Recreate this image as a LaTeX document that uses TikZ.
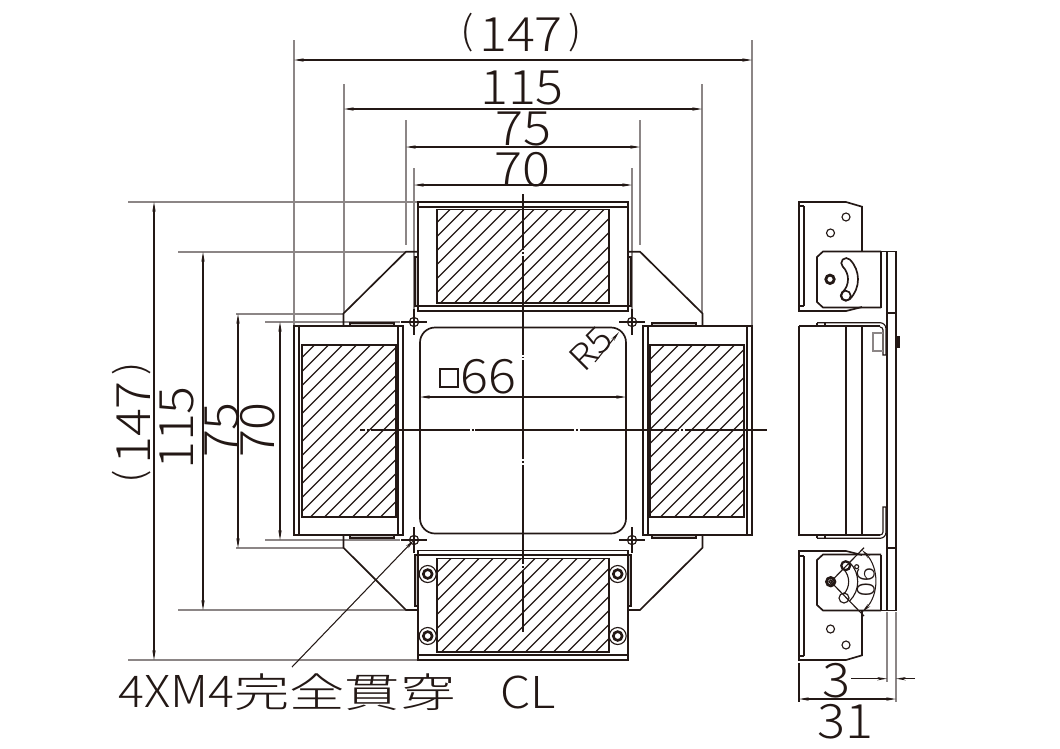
\documentclass[tikz,border=0pt]{standalone}
\usepackage{fontspec}
\setmainfont{Noto Sans CJK JP Light}[FakeStretch=1.1]
\newfontfamily\cjkwide{Noto Sans CJK JP Light}[FakeStretch=1.37]
\usetikzlibrary{arrows.meta}
\definecolor{ink}{HTML}{231815}
\definecolor{extgray}{HTML}{8C8686}
\definecolor{platefill}{HTML}{C9C6C5}
\tikzset{
	obj/.style={draw=ink,line width=0.95pt,line join=miter},
	thinobj/.style={draw=ink,line width=0.65pt},
	extline/.style={draw=extgray,line width=0.65pt},
	dimline/.style={draw=ink,line width=0.6pt,{Stealth[length=5.6pt,width=1.9pt]}-{Stealth[length=5.6pt,width=1.9pt]}},
	leadline/.style={draw=ink,line width=0.6pt,-{Stealth[length=5.6pt,width=1.9pt]}},
	centerline/.style={draw=ink,line width=0.75pt,dash pattern=on 56.3pt off 1.1pt on 1.1pt off 1.1pt},
	hatchline/.style={draw=ink,line width=0.7pt},
	dimtext/.style={text=ink,inner sep=0pt,font=\fontsize{27}{27}\selectfont},
}
\newcommand{\parlabel}[1]{{\fontsize{22}{22}\selectfont\raisebox{4pt}{(}}\hspace{3pt}#1\hspace{3pt}{\fontsize{22}{22}\selectfont\raisebox{4pt}{)}}}
% hatched window: x1 y1 x2 y2
\newcommand{\hatchbox}[4]{
	\begin{scope}
		\clip (#1,#2) rectangle (#3,#4);
		\foreach \k in {575.5,589.5,...,1420}
			\draw[hatchline] (\k-#2,#2)--(\k-#4,#4);
	\end{scope}
	\draw[obj] (#1,#2) rectangle (#3,#4);
}
\newcommand{\screwmark}[2]{
	\draw[thinobj,fill=white] (#1,#2) circle (8.5);
	\draw[ink,line width=1.5pt] (#1,#2) circle (4.4);
}
\newcommand{\holemark}[2]{
	\draw[thinobj] (#1,#2) circle (4.6);
	\draw[thinobj] (#1-13,#2)--(#1+13,#2);
	\draw[thinobj] (#1,#2-13)--(#1,#2+13);
}
\begin{document}
\begin{tikzpicture}[x=0.02cm,y=-0.02cm]
	\useasboundingbox (0,0) rectangle (1060,748);
	% extension lines, top
	\draw[extline] (294,40)--(294,326);
	\draw[extline] (752,40)--(752,326);
	\draw[extline] (344,84)--(344,313);
	\draw[extline] (702,84)--(702,313);
	\draw[extline] (406,120)--(406,245);
	\draw[extline] (640,120)--(640,245);
	\draw[extline] (414,168)--(414,318);
	\draw[extline] (632,168)--(632,318);
	% extension lines, left
	\draw[extline] (128,202)--(418,202);
	\draw[extline] (128,660)--(418,660);
	\draw[extline] (178,252)--(406,252);
	\draw[extline] (178,610)--(406,610);
	\draw[extline] (236,314)--(343,314);
	\draw[extline] (236,548)--(343,548);
	\draw[extline] (265,322)--(400,322);
	\draw[extline] (265,540)--(400,540);
	% dimensions, top
	\draw[dimline] (294,60)--(752,60);
	\draw[dimline] (344,109)--(702,109);
	\draw[dimline] (406,147)--(640,147);
	\draw[dimline] (414,185)--(632,185);
	\node[dimtext] (t147) at (521,33) {\parlabel{147}};
	\node[dimtext] (t115) at (522,88) {115};
	\node[dimtext] (t75) at (523,129) {75};
	\node[dimtext] (t70) at (522,170) {70};
	% dimensions, left
	\draw[dimline] (154,202)--(154,660);
	\draw[dimline] (203,252)--(203,610);
	\draw[dimline] (238,314)--(238,548);
	\draw[dimline] (280,322)--(280,540);
	\node[dimtext,rotate=90] (l147) at (132,423) {\parlabel{147}};
	\node[dimtext,rotate=90] (l115) at (177,428) {115};
	\node[dimtext,rotate=90] (l75) at (222,430) {75};
	\node[dimtext,rotate=90] (l70) at (258,430) {70};
	% panels
	\draw[obj] (418,202) rectangle (628,311);
	\draw[obj] (418,207)--(628,207);
	\draw[obj] (418,306)--(628,306);
	\hatchbox{437}{209.5}{609}{303}
	\draw[obj] (418,550.5) rectangle (628,660);
	\draw[obj] (418,555)--(628,555);
	\draw[obj] (418,655)--(628,655);
	\hatchbox{437}{558.5}{609}{652}
	\draw[obj] (294,326) rectangle (403,535);
	\draw[obj] (299,326)--(299,535);
	\draw[obj] (398,326)--(398,535);
	\hatchbox{302}{345}{396}{517}
	\draw[obj] (643,326) rectangle (752,535);
	\draw[obj] (648,326)--(648,535);
	\draw[obj] (747,326)--(747,535);
	\hatchbox{650}{345}{744}{517}
	% screws
	\screwmark{427.7}{574}
	\screwmark{427.7}{636}
	\screwmark{617.7}{574}
	\screwmark{617.7}{636}
	% corner brackets
	\draw[obj] (343.5,326)--(343.5,313.5)--(406,251.7)--(418,251.7);
	\draw[obj] (702.5,326)--(702.5,313.5)--(640,251.7)--(628,251.7);
	\draw[obj] (343.5,535)--(343.5,547.7)--(406,610)--(418,610);
	\draw[obj] (702.5,535)--(702.5,547.7)--(640,610)--(628,610);
	\draw[thinobj,fill=platefill] (415,257)rectangle(418,306);
	\draw[thinobj,fill=platefill] (628,257)rectangle(631,306);
	\draw[thinobj,fill=platefill] (415,555)rectangle(418,606);
	\draw[thinobj,fill=platefill] (628,555)rectangle(631,606);
	\draw[thinobj,fill=platefill] (350,323)rectangle(394,326);
	\draw[thinobj,fill=platefill] (652,323)rectangle(696,326);
	\draw[thinobj,fill=platefill] (350,535)rectangle(394,538);
	\draw[thinobj,fill=platefill] (652,535)rectangle(696,538);
	% opening
	\draw[obj,rounded corners=15*0.02cm] (420,327.5) rectangle (626,533.5);
	\holemark{414}{322}
	\holemark{632}{322}
	\holemark{414}{540}
	\holemark{632}{540}
	% centre lines
	\draw[centerline,dash phase=24.5pt] (523,194)--(523,632);
	\draw[centerline,dash phase=53.5pt] (360,430)--(767,430);
	% opening dimensions
	\draw[dimline] (420,397)--(626,397);
	\draw[thinobj] (440,369) rectangle (458,387);
	\node[dimtext] (t66) at (488,377) {66};
	\draw[leadline] (595,362)--(619,332);
	\node[dimtext,rotate=45,font=\fontsize{20}{20}\selectfont] (r5) at (591,349) {R5};
	% note
	\draw[leadline] (292,667)--(414,540);
	\node[dimtext,anchor=west,font=\fontsize{25}{25}\selectfont] (note) at (118,692) {4XM4{\cjkwide\fontsize{23}{23}\selectfont 完全貫穿}};
	\node[dimtext,anchor=west,font=\fontsize{25}{25}\selectfont] (cl) at (500,692) {CL};
	% side view, upper bracket
	\draw[obj] (862,251.5)--(862,206.7)--(846,202)--(799,202)--(799,311)--(846,311)--(862,307);
	\draw[obj] (804,206)--(804,306);
	\draw[obj] (799,206)--(804,206);
	\draw[obj] (799,306)--(804,306);
	\draw[thinobj] (846,217) circle (4);
	\draw[thinobj] (830.5,233) circle (4);
	\draw[obj] (881,251.5)--(823,251.5)--(817,257)--(817,302)--(823,307.5)--(881,307.5);
	\draw[obj] (881,251.5)--(896,251.5)--(896,610.5)--(881,610.5);
	\draw[obj] (881,251.5)--(881,307.5);
	\draw[obj] (887,251.5)--(887,313)--(896,313);
	\draw[ink,line width=1.6pt] (830,279.3) circle (4.2);
	\draw[obj] (849.8,259.5) arc[start angle=-45,end angle=45,radius=28]
		arc[start angle=45,end angle=225,radius=5]
		arc[start angle=45,end angle=-45,radius=18]
		arc[start angle=135,end angle=315,radius=5];
	\draw[obj] (845.7,295.7) circle (5);
	% side view, body
	\draw[obj] (887,313)--(887,548);
	\draw[obj] (799,326)--(799,535)--(880,535);
	\draw[obj] (799,326)--(880,326);
	\draw[obj] (846,326)--(846,535);
	\draw[obj] (862,326)--(862,535);
	\draw[thinobj] (817,322.7)--(880,322.7) arc[start angle=-90,end angle=0,radius=6]--(886,355)--(883,355)--(883,330) arc[start angle=0,end angle=-90,radius=3];
	\draw[thinobj] (817,322.7)--(817,326);
	\draw[thinobj] (825,322.7)--(825,326);
	\draw[thinobj] (817,538.3)--(880,538.3) arc[start angle=90,end angle=0,radius=6]--(886,507)--(883,507)--(883,532) arc[start angle=0,end angle=90,radius=3];
	\draw[thinobj] (817,538.3)--(817,535);
	\draw[thinobj] (825,538.3)--(825,535);
	\draw[draw=extgray,line width=0.8pt] (883,333)--(873,333)--(873,351)--(883,351);
	\draw[obj,fill=ink] (896,337) rectangle (899,347);
	% side view, lower bracket
	\draw[obj] (862,610.5)--(862,655.3)--(846,660)--(799,660)--(799,551)--(846,551)--(862,555);
	\draw[obj] (804,556)--(804,656);
	\draw[obj] (799,556)--(804,556);
	\draw[obj] (799,656)--(804,656);
	\draw[thinobj] (846,645) circle (4);
	\draw[thinobj] (830.5,629) circle (4);
	\draw[obj] (881,610.5)--(823,610.5)--(817,605)--(817,560)--(823,554.5)--(881,554.5);
	\draw[obj] (881,554.5)--(881,610.5);
	\draw[obj] (887,548)--(887,610.5);
	\draw[obj] (887,548)--(896,548);
	\draw[ink,line width=1.6pt] (830.7,581.7) circle (4.2);
	\draw[thinobj] (830.7,581.7) circle (1.8);
	\draw[ink,line width=1.3pt] (845.7,565.7) circle (4.4);
	\draw[thinobj] (856.7,566.7) circle (2);
	\draw[thinobj] (844,598) circle (5);
	\draw[thinobj] (843.4,569) arc[start angle=-45,end angle=45,radius=18];
	\draw[thinobj] (849.8,562.6) arc[start angle=-45,end angle=45,radius=27];
	\draw[thinobj] (830.7,581.7)--(864,547.7);
	\draw[thinobj] (830.7,581.7)--(864,616);
	\draw[dimline] (862,550) arc[start angle=-45,end angle=45,radius=44];
	\node[dimtext,rotate=-90,font=\fontsize{14}{14}\selectfont] (a90) at (866,582) {90};
	% side view, dimensions
	\draw[extline] (887,612)--(887,682);
	\draw[extline] (896,612)--(896,702);
	\draw[thinobj] (799,663)--(799,702);
	\draw[dimline] (799,699)--(896,699);
	\draw[leadline] (851,678.7)--(887,678.7);
	\draw[leadline] (915,678.7)--(896,678.7);
	\node[dimtext] (s3) at (836,681) {3};
	\node[dimtext] (s31) at (845,722) {31};
\end{tikzpicture}
\end{document}
